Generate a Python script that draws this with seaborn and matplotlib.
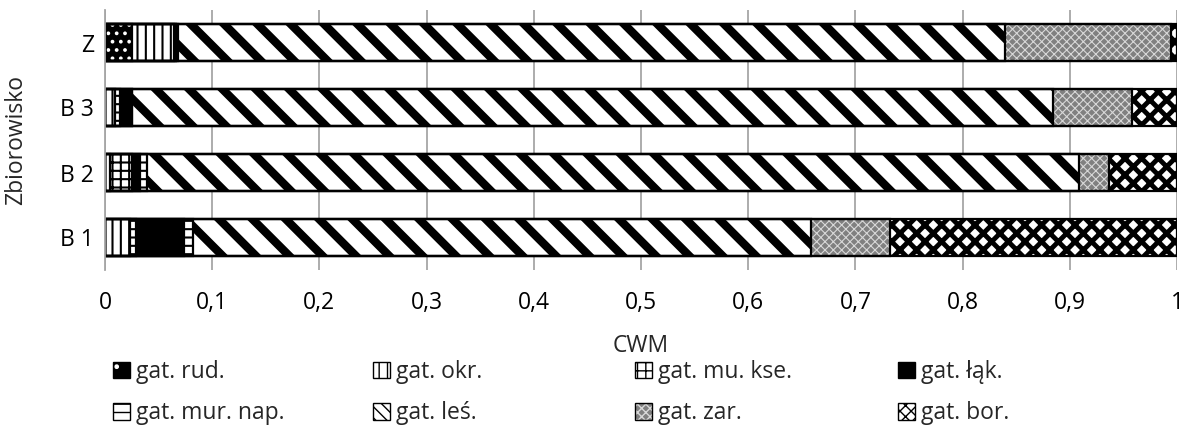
import matplotlib
matplotlib.use("Agg")
import matplotlib.pyplot as plt
from matplotlib.patches import Patch
import seaborn as sns
import pandas as pd
import numpy as np

sns.set_theme(style="white")
plt.rcParams['font.family'] = ['Open Sans', 'DejaVu Sans']

categories = ["Z", "B 3", "B 2", "B 1"]
series_names = ["gat. rud.", "gat. okr.", "gat. mu. kse.", "gat. łąk.",
                "gat. mur. nap.", "gat. leś.", "gat. zar.", "gat. bor."]
rud = [0.025, 0.0, 0.0, 0.0]
okr = [0.039, 0.009, 0.005, 0.023]
mu_kse = [0.002, 0.005, 0.020, 0.006]
lak = [0.0, 0.011, 0.008, 0.045]
mur_nap = [0.002, 0.0, 0.006, 0.008]
les = [0.772, 0.859, 0.870, 0.577]
zar = [0.154, 0.074, 0.028, 0.073]
bor = [0.006, 0.042, 0.063, 0.268]
x_ticks = [0, 0.1, 0.2, 0.3, 0.4, 0.5, 0.6, 0.7, 0.8, 0.9, 1.0]
x_tick_labels = ["0", "0,1", "0,2", "0,3", "0,4", "0,5", "0,6", "0,7", "0,8", "0,9", "1"]

values = [rud, okr, mu_kse, lak, mur_nap, les, zar, bor]
# style: (facecolor, hatchcolor, hatch, hatch linewidth, legend hatch)
styles = [
    ("black", "white", "..", 1.5, "."),
    ("white", "black", "||", 1.5, "||"),
    ("white", "black", "++", 1.5, "++"),
    ("black", "black", "", 1.0, ""),
    ("white", "black", "--", 1.5, "--"),
    ("white", "black", "\\", 6.0, "\\\\\\"),
    ("#808080", "#d8d8d8", "xxxx", 0.8, "xxxx"),
    ("white", "black", "xx", 3.5, "xxx"),
]

FS = 16.5
fig = plt.figure(figsize=(11.84, 4.43), dpi=100)
ax = fig.add_axes([105/1184, 1-270/443, (1177-105)/1184, 260/443])

cum = np.cumsum(np.array(values), axis=0)
bar_w = 0.56
for i in range(len(values)-1, -1, -1):
    fc, hc, h, hlw, _ = styles[i]
    df = pd.DataFrame({"cat": categories, "val": cum[i]})
    with plt.rc_context({"hatch.linewidth": hlw}):
        sns.barplot(data=df, x="val", y="cat", orient="h", order=categories,
                    color=fc, saturation=1, edgecolor=hc, linewidth=0,
                    hatch=h if h else None, width=bar_w, ax=ax)
    for p in ax.patches[-len(categories):]:
        p.set_facecolor(fc)
        if hasattr(p, "set_hatch_linewidth"):
            p.set_hatch_linewidth(hlw)
for i in range(len(values)):
    df = pd.DataFrame({"cat": categories, "val": cum[i]})
    sns.barplot(data=df, x="val", y="cat", orient="h", order=categories,
                fill=False, edgecolor="black", linewidth=1.6, width=bar_w, ax=ax)

ax.set_xlim(0, 1)
ax.set_ylim(3.5, -0.5)
ax.set_xticks(x_ticks)
ax.set_xticklabels(x_tick_labels)
ax.xaxis.grid(True, color="#a6a6a6", linewidth=1.3)
ax.yaxis.grid(False)
ax.set_axisbelow(True)
for s in ["top", "right", "bottom"]:
    ax.spines[s].set_visible(False)
ax.spines["left"].set_color("#a6a6a6")
ax.spines["left"].set_linewidth(1.3)
ax.tick_params(axis="x", length=0, pad=15, labelsize=FS, colors="black")
ax.tick_params(axis="y", length=0, pad=8, labelsize=FS, colors="black")
ax.set_xlabel("CWM", fontsize=FS, labelpad=14)
ax.set_ylabel("Zbiorowisko", fontsize=FS)
ax.yaxis.set_label_coords(-0.072, 0.5)

order_rows = [[0, 1, 2, 3], [4, 5, 6, 7]]
col_x = [113, 373, 635, 898]
for c in range(4):
    handles, labels = [], []
    for r in range(2):
        i = order_rows[r][c]
        fc, hc, h, hlw, lh = styles[i]
        fillp = Patch(facecolor=fc, edgecolor=hc, hatch=lh if lh else None, linewidth=0)
        outl = Patch(facecolor="none", edgecolor="black", linewidth=1.0)
        handles.append((fillp, outl))
        labels.append(series_names[i])
    fig.legend(handles, labels, loc="upper left",
               bbox_to_anchor=(col_x[c]/1184, 1-360/443), frameon=False,
               fontsize=FS, handlelength=0.75, handleheight=0.75,
               handletextpad=0.25, labelspacing=0.75, borderpad=0, borderaxespad=0)

fig.savefig("out.png", dpi=100)
